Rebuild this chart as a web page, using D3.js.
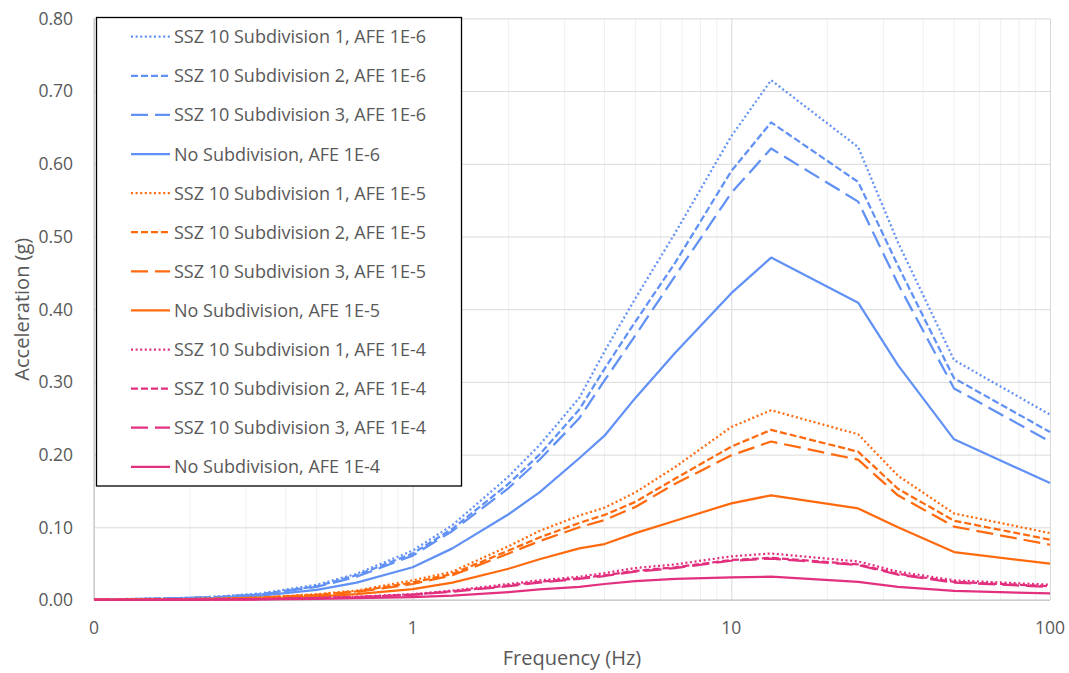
<!DOCTYPE html>
<html>
<head>
<meta charset="utf-8">
<script src="https://cdn.jsdelivr.net/npm/d3@7"></script>
<style>
  body { margin: 0; background: #fff; }
  svg { font-family: "Open Sans", sans-serif; }
</style>
</head>
<body>
<svg width="1069" height="673"></svg>
<script>
// frequencies (Hz) shared by all series
let frequencies = [0.1, 0.133, 0.2, 0.25, 0.333, 0.5, 0.667, 1, 1.333, 2, 2.5, 3.333, 4, 5, 6.667, 10, 13.33, 25, 33.33, 50, 100];

let seriesNames = [
  'SSZ 10 Subdivision 1, AFE 1E-6',
  'SSZ 10 Subdivision 2, AFE 1E-6',
  'SSZ 10 Subdivision 3, AFE 1E-6',
  'No Subdivision, AFE 1E-6',
  'SSZ 10 Subdivision 1, AFE 1E-5',
  'SSZ 10 Subdivision 2, AFE 1E-5',
  'SSZ 10 Subdivision 3, AFE 1E-5',
  'No Subdivision, AFE 1E-5',
  'SSZ 10 Subdivision 1, AFE 1E-4',
  'SSZ 10 Subdivision 2, AFE 1E-4',
  'SSZ 10 Subdivision 3, AFE 1E-4',
  'No Subdivision, AFE 1E-4'
];

let sub1_1e6 = [0.001, 0.0015, 0.003, 0.005, 0.009, 0.021, 0.036, 0.068, 0.103, 0.170, 0.213, 0.278, 0.342, 0.415, 0.505, 0.638, 0.715, 0.623, 0.492, 0.330, 0.255];
let sub2_1e6 = [0.001, 0.0014, 0.003, 0.0045, 0.008, 0.019, 0.034, 0.064, 0.098, 0.160, 0.200, 0.262, 0.318, 0.383, 0.464, 0.590, 0.657, 0.575, 0.460, 0.305, 0.231];
let sub3_1e6 = [0.001, 0.0013, 0.0028, 0.0043, 0.0075, 0.018, 0.032, 0.061, 0.095, 0.154, 0.193, 0.250, 0.302, 0.364, 0.446, 0.560, 0.621, 0.548, 0.435, 0.291, 0.218];
let nosub_1e6 = [0.0008, 0.001, 0.002, 0.003, 0.006, 0.014, 0.024, 0.045, 0.071, 0.118, 0.148, 0.195, 0.226, 0.278, 0.340, 0.422, 0.471, 0.409, 0.323, 0.221, 0.161];

let sub1_1e5 = [0.0005, 0.0007, 0.0013, 0.002, 0.0035, 0.008, 0.013, 0.027, 0.039, 0.074, 0.095, 0.116, 0.127, 0.148, 0.183, 0.238, 0.261, 0.228, 0.171, 0.119, 0.092];
let sub2_1e5 = [0.0005, 0.0006, 0.0012, 0.0018, 0.0032, 0.0072, 0.012, 0.024, 0.036, 0.068, 0.086, 0.106, 0.117, 0.135, 0.167, 0.211, 0.234, 0.204, 0.153, 0.109, 0.083];
let sub3_1e5 = [0.0004, 0.0006, 0.0011, 0.0017, 0.003, 0.0068, 0.011, 0.022, 0.034, 0.064, 0.081, 0.100, 0.110, 0.128, 0.160, 0.199, 0.218, 0.193, 0.144, 0.101, 0.076];
let nosub_1e5 = [0.0003, 0.0004, 0.0008, 0.0012, 0.002, 0.0045, 0.008, 0.015, 0.024, 0.043, 0.056, 0.071, 0.077, 0.092, 0.109, 0.133, 0.144, 0.126, 0.100, 0.066, 0.050];

let sub1_1e4 = [0.0002, 0.0003, 0.0005, 0.0008, 0.0013, 0.003, 0.0045, 0.008, 0.013, 0.022, 0.027, 0.032, 0.037, 0.044, 0.049, 0.060, 0.064, 0.053, 0.039, 0.027, 0.021];
let sub2_1e4 = [0.0002, 0.0003, 0.0004, 0.0007, 0.0012, 0.0027, 0.004, 0.0075, 0.012, 0.020, 0.025, 0.030, 0.034, 0.040, 0.045, 0.055, 0.058, 0.049, 0.036, 0.025, 0.019];
let sub3_1e4 = [0.0002, 0.0003, 0.0004, 0.0007, 0.0011, 0.0026, 0.004, 0.007, 0.0115, 0.019, 0.024, 0.029, 0.033, 0.039, 0.044, 0.054, 0.057, 0.048, 0.035, 0.024, 0.018];
let nosub_1e4 = [0.0001, 0.0002, 0.0003, 0.0004, 0.0007, 0.0015, 0.0025, 0.004, 0.006, 0.011, 0.0145, 0.018, 0.022, 0.026, 0.029, 0.031, 0.032, 0.025, 0.018, 0.0125, 0.009];

let allValues = [sub1_1e6, sub2_1e6, sub3_1e6, nosub_1e6, sub1_1e5, sub2_1e5, sub3_1e5, nosub_1e5, sub1_1e4, sub2_1e4, sub3_1e4, nosub_1e4];

let xTickValues = [0.1, 1, 10, 100];
let xTickLabels = ['0', '1', '10', '100'];
let yTickValues = [0, 0.1, 0.2, 0.3, 0.4, 0.5, 0.6, 0.7, 0.8];

// styles per series
const colors = ['#6191f5', '#ff6a0e', '#e2307f'];
const dashes = ['2 2.6', '7 3', '17 7', null];

const plotLeft = 94, plotRight = 1050, plotTop = 18.4, plotBottom = 600;

let svg = d3.select('svg');

const xScale = d3.scaleLog()
  .domain([0.1, 100])
  .range([plotLeft, plotRight]);

const yScale = d3.scaleLinear()
  .domain([0, 0.8])
  .range([plotBottom, plotTop]);

// minor vertical gridlines (2..9 per decade)
let minor = [];
[0.1, 1, 10].forEach(d => { for (let k = 2; k <= 9; k++) minor.push(d * k); });

svg.append('g')
  .selectAll('line')
  .data(minor)
  .enter()
  .append('line')
  .attr('x1', d => xScale(d)).attr('x2', d => xScale(d))
  .attr('y1', plotTop).attr('y2', plotBottom)
  .attr('stroke', '#f0f0f0')
  .attr('stroke-width', 1);

// major gridlines
svg.append('g')
  .attr('transform', `translate(0, ${plotBottom})`)
  .call(d3.axisBottom(xScale).tickValues(xTickValues).tickSize(-(plotBottom - plotTop)).tickFormat(''))
  .call(g => g.select('.domain').remove())
  .selectAll('line').attr('stroke', '#d9d9d9');

svg.append('g')
  .attr('transform', `translate(${plotLeft}, 0)`)
  .call(d3.axisLeft(yScale).tickValues(yTickValues).tickSize(-(plotRight - plotLeft)).tickFormat(''))
  .call(g => g.select('.domain').remove())
  .selectAll('line').attr('stroke', '#d9d9d9');

// axis lines
svg.append('line')
  .attr('x1', plotLeft).attr('x2', plotRight).attr('y1', plotBottom).attr('y2', plotBottom)
  .attr('stroke', '#bfbfbf');
svg.append('line')
  .attr('x1', plotLeft).attr('x2', plotLeft).attr('y1', plotTop).attr('y2', plotBottom)
  .attr('stroke', '#bfbfbf');

// tick labels
svg.append('g')
  .selectAll('text')
  .data(yTickValues)
  .enter()
  .append('text')
  .attr('x', 73)
  .attr('y', d => yScale(d) + 6.3)
  .attr('text-anchor', 'end')
  .attr('font-size', 17.5)
  .attr('fill', '#595959')
  .text(d => d.toFixed(2));

svg.append('g')
  .selectAll('text')
  .data(xTickValues)
  .enter()
  .append('text')
  .attr('x', d => xScale(d))
  .attr('y', 634)
  .attr('text-anchor', 'middle')
  .attr('font-size', 17.5)
  .attr('fill', '#595959')
  .text((d, i) => xTickLabels[i]);

// lines
const line = d3.line()
  .x((d, i) => xScale(frequencies[i]))
  .y(d => yScale(d));

let series = allValues.map((v, i) => ({
  name: seriesNames[i],
  values: v,
  color: colors[Math.floor(i / 4)],
  dash: dashes[i % 4]
}));

svg.append('g')
  .selectAll('path')
  .data(series)
  .enter()
  .append('path')
  .attr('d', d => line(d.values))
  .attr('fill', 'none')
  .attr('stroke', d => d.color)
  .attr('stroke-width', 2.25)
  .attr('stroke-linejoin', 'round')
  .attr('stroke-dasharray', d => d.dash);

// legend
let legend = svg.append('g');
legend.append('rect')
  .attr('x', 96.5).attr('y', 17.5)
  .attr('width', 365).attr('height', 468.5)
  .attr('fill', '#fff')
  .attr('stroke', '#000')
  .attr('stroke-width', 1.3);

let item = legend.selectAll('.item')
  .data(series)
  .enter()
  .append('g')
  .attr('transform', (d, i) => `translate(0, ${36.7 + i * 39.1})`);

item.append('line')
  .attr('x1', 131).attr('x2', 170)
  .attr('stroke', d => d.color)
  .attr('stroke-width', 2.25)
  .attr('stroke-dasharray', d => d.dash);

item.append('text')
  .attr('x', 174)
  .attr('y', 6.5)
  .attr('font-size', 18)
  .attr('fill', '#595959')
  .text(d => d.name);

// axis titles
svg.append('text')
  .attr('transform', 'rotate(-90)')
  .attr('x', -(plotTop + plotBottom) / 2)
  .attr('y', 29)
  .attr('text-anchor', 'middle')
  .attr('font-size', 20)
  .attr('fill', '#595959')
  .text('Acceleration (g)');

svg.append('text')
  .attr('x', (plotLeft + plotRight) / 2)
  .attr('y', 665)
  .attr('text-anchor', 'middle')
  .attr('font-size', 20)
  .attr('fill', '#595959')
  .text('Frequency (Hz)');
</script>
</body>
</html>
